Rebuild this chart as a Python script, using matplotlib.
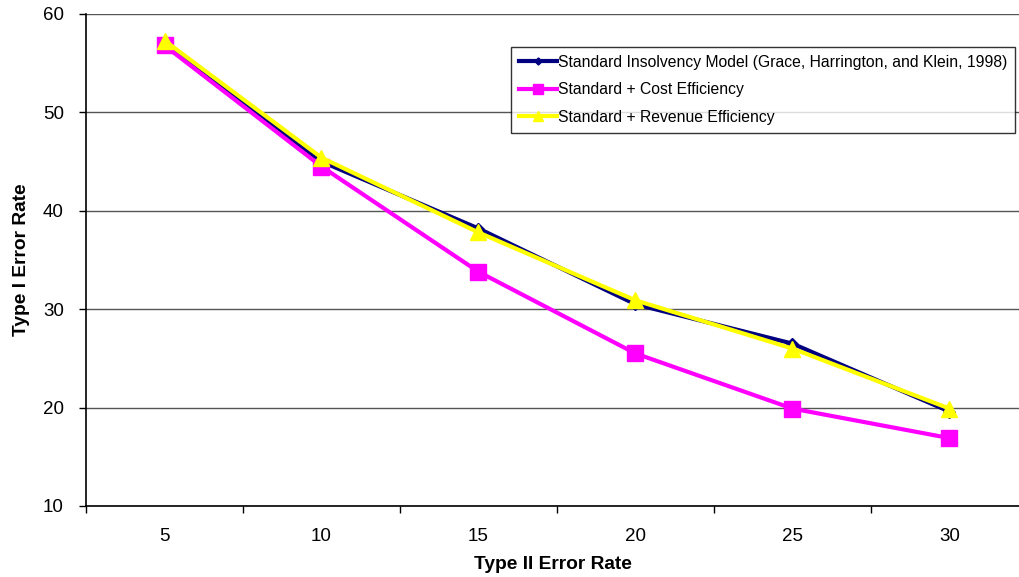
import numpy as np
import matplotlib.pyplot as plt

plt.rcParams['font.family'] = ['Liberation Sans', 'DejaVu Sans']

categories = ['5', '10', '15', '20', '25', '30']
standard = [57.0, 45.0, 38.2, 30.5, 26.5, 19.6]
cost_eff = [56.8, 44.5, 33.8, 25.5, 19.9, 16.9]
revenue_eff = [57.3, 45.4, 37.8, 30.9, 26.0, 19.9]

x = np.arange(1, len(categories) + 1)

fig = plt.figure(figsize=(10.2, 5.77), dpi=100)
ax = fig.add_axes([86 / 1020, 1 - 506 / 577, (1020 - 86) / 1020, (506 - 14) / 577])

ax.plot(x, standard, color='#000080', lw=3, marker='D', ms=6,
        label='Standard Insolvency Model (Grace, Harrington, and Klein, 1998)', zorder=3)
ax.plot(x, cost_eff, color='#FF00FF', lw=3, marker='s', ms=11,
        label='Standard + Cost Efficiency', zorder=4)
ax.plot(x, revenue_eff, color='#FFFF00', lw=3, marker='^', ms=11,
        label='Standard + Revenue Efficiency', zorder=5)

ax.set_yticks(np.arange(10, 61, 10))
ax.set_xticks(x)
ax.set_xticklabels(categories)
ax.set_xticks(np.arange(0.5, 6.0, 1), minor=True)
# category width ~157 px, axis runs off the right edge of the picture
ax.set_ylim(10, 60)
ax.set_xlim(0.5, 0.5 + (1020 - 86) / 157.0)
ax.tick_params(axis='x', which='major', length=0, pad=16, labelsize=13.5)
ax.tick_params(axis='x', which='minor', length=5, direction='out', width=1)
ax.tick_params(axis='y', length=5, direction='out', width=1, labelsize=13.5, pad=11)

ax.yaxis.grid(True, color='#555555', lw=1)
ax.set_axisbelow(True)
for s in ['top', 'right']:
    ax.spines[s].set_visible(False)
ax.spines['left'].set_linewidth(1.2)
ax.spines['bottom'].set_linewidth(1.2)

ax.set_xlabel('Type II Error Rate', fontsize=13.8, fontweight='bold', labelpad=8)
ax.set_ylabel('Type I Error Rate', fontsize=13.8, fontweight='bold', labelpad=9)

leg = ax.legend(loc='upper left', bbox_to_anchor=(511 / 1020, 1 - 47 / 577),
                bbox_transform=fig.transFigure, fontsize=11.3, frameon=True,
                fancybox=False, edgecolor='black', handlelength=2.4,
                handletextpad=0.1, borderpad=0.5, labelspacing=0.8, markerscale=0.6,
                borderaxespad=0)
leg.get_frame().set_linewidth(1)

fig.savefig('out.png', dpi=100)
